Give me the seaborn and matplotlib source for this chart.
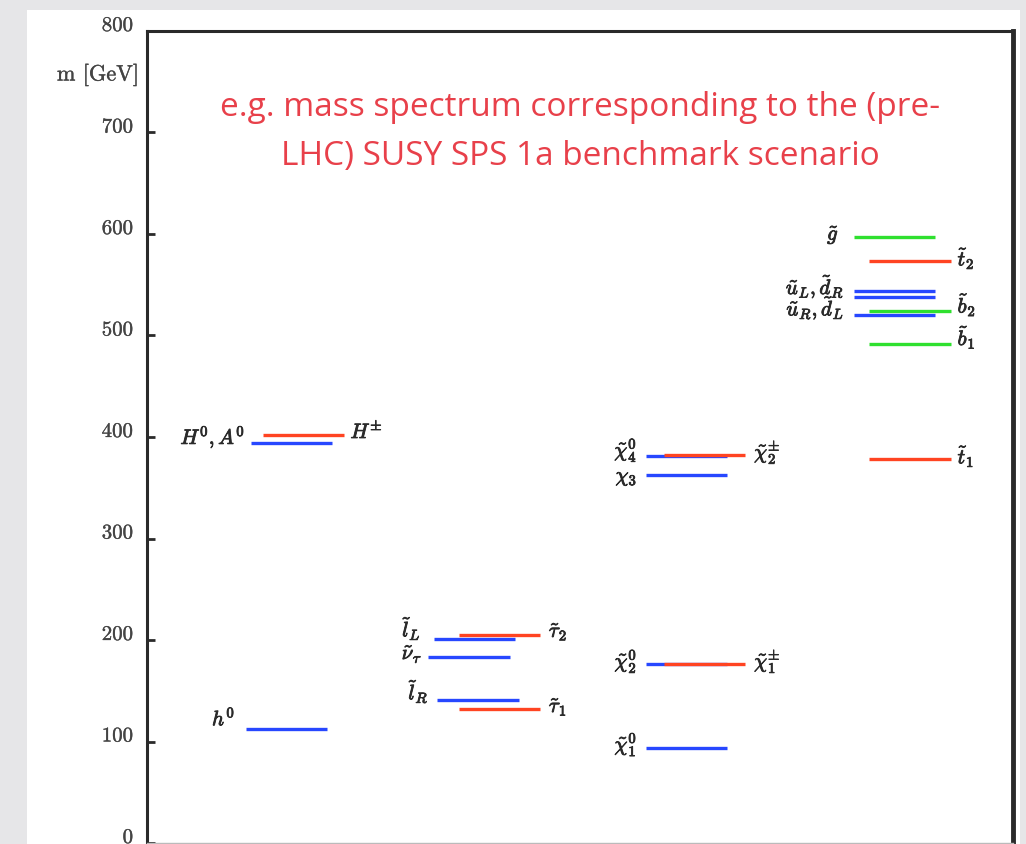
import matplotlib
matplotlib.use("Agg")
import matplotlib.pyplot as plt
import matplotlib.patheffects as pe
import matplotlib.transforms as mtransforms
from matplotlib.patches import Rectangle
import pandas as pd
import seaborn as sns

# SPS 1a mass levels (GeV)
particles = ["h0", "H0_A0", "Hpm", "lL", "tau2", "nutau", "lR", "tau1",
             "chi04", "chipm2", "chi03", "chi02", "chipm1", "chi01",
             "gluino", "stop2", "uL", "dR", "uR_dL", "sbot2", "sbot1", "stop1"]
masses = [112, 394, 402, 201, 205, 183, 141, 132,
          381, 382, 363, 176, 176, 94,
          597, 573, 544, 538, 520, 524, 492, 378]
families = ["blue", "blue", "red", "blue", "red", "blue", "blue", "red",
            "blue", "red", "blue", "blue", "red", "blue",
            "green", "red", "blue", "blue", "blue", "green", "green", "red"]
# left end of each level on a 0-100 horizontal scale
x_left = [11.4, 12.0, 13.4, 33.1, 36.0, 32.5, 33.5, 36.0,
          57.6, 59.7, 57.6, 57.6, 59.7, 57.6,
          81.6, 83.4, 81.6, 81.6, 81.6, 83.4, 83.4, 83.4]
level_width = 9.4

yticks = [0, 100, 200, 300, 400, 500, 600, 700, 800]

# text labels: (text, x, mass, side)
labels = [
    (r"$h^0$", 10.2, 124, "left"),
    (r"$H^0, A^0$", 11.3, 400, "left"),
    (r"$H^{\pm}$", 23.5, 406, "right"),
    (r"$\tilde{l}_L$", 31.6, 211, "left"),
    (r"$\tilde{\nu}_\tau$", 31.8, 186, "left"),
    (r"$\tilde{l}_R$", 32.5, 149, "left"),
    (r"$\tilde{\tau}_2$", 46.4, 208, "right"),
    (r"$\tilde{\tau}_1$", 46.4, 134, "right"),
    (r"$\tilde{\chi}^0_4$", 56.6, 387, "left"),
    (r"$\chi_3$", 56.6, 360, "left"),
    (r"$\tilde{\chi}^{\pm}_2$", 70.1, 385, "right"),
    (r"$\tilde{\chi}^0_2$", 56.6, 179, "left"),
    (r"$\tilde{\chi}^{\pm}_1$", 70.1, 179, "right"),
    (r"$\tilde{\chi}^0_1$", 56.6, 97, "left"),
    (r"$\tilde{g}$", 79.9, 599, "left"),
    (r"$\tilde{u}_L, \tilde{d}_R$", 80.5, 548, "left"),
    (r"$\tilde{u}_R, \tilde{d}_L$", 80.5, 527, "left"),
    (r"$\tilde{t}_2$", 93.6, 576, "right"),
    (r"$\tilde{b}_2$", 93.6, 530, "right"),
    (r"$\tilde{b}_1$", 93.6, 498, "right"),
    (r"$\tilde{t}_1$", 93.6, 381, "right"),
]

palette = {"blue": "#2747ff", "red": "#ff4422", "green": "#2fe02f"}
ink = "#2a2a2a"
bold = [pe.withStroke(linewidth=0.6, foreground=ink)]
grey_txt = "#444444"

sns.set_theme(style="white")
plt.rcParams["mathtext.fontset"] = "cm"

fig = plt.figure(figsize=(10.26, 8.44), dpi=100)
fig.patch.set_facecolor("#e6e6e8")
# white page behind the plot
fig.add_artist(Rectangle((27 / 1026, 0), (1020 - 27) / 1026, (844 - 10) / 844,
                         transform=fig.transFigure, facecolor="white",
                         edgecolor="none", zorder=0))

ax = fig.add_axes([147 / 1026, 1 / 844, (1013 - 147) / 1026, (843 - 31) / 844])
ax.set_facecolor("white")
ax.patch.set_alpha(0)

rows = []
for name, m, fam, xl in zip(particles, masses, families, x_left):
    rows.append({"level": name, "x": xl, "mass": m, "family": fam})
    rows.append({"level": name, "x": xl + level_width, "mass": m, "family": fam})
df = pd.DataFrame(rows)

for fam in ["blue", "red", "green"]:
    sub = df[df["family"] == fam]
    sns.lineplot(data=sub, x="x", y="mass", units="level", estimator=None,
                 color=palette[fam], linewidth=2.4, ax=ax, legend=False,
                 solid_capstyle="butt")

for text, x, m, side in labels:
    ax.text(x, m, text, ha="right" if side == "left" else "left", va="center",
            fontsize=15, color=ink, path_effects=bold)

ax.set_xlim(0, 100)
ax.set_ylim(0, 800)
ax.set_xticks([])
ax.set_yticks(yticks)
ax.set_yticklabels([])
ax.tick_params(axis="y", direction="in", length=6, width=2, colors=ink,
               left=True)
ax.set_xlabel("")
ax.set_ylabel("")

# tick values sit slightly above their ticks
lift = mtransforms.ScaledTranslation(0, 5 / 100, fig.dpi_scale_trans)
for v in yticks:
    ax.text(-0.016, v, str(v), transform=ax.get_yaxis_transform() + lift,
            ha="right", va="center", fontname="cmr10", fontsize=15,
            color=grey_txt, clip_on=False, path_effects=[
                pe.withStroke(linewidth=0.25, foreground=grey_txt)])

for side in ["left", "top", "right"]:
    ax.spines[side].set_color(ink)
    ax.spines[side].set_linewidth(2.2)
ax.spines["right"].set_linewidth(3.5)
ax.spines["bottom"].set_color("#bbbbbb")
ax.spines["bottom"].set_linewidth(1)

fig.text(139 / 1026, 1 - 75 / 844, "m [GeV]", ha="right", va="center",
         fontname="cmr10", fontsize=16, color=grey_txt,
         path_effects=[pe.withStroke(linewidth=0.25, foreground=grey_txt)])

title_kw = dict(ha="center", va="center", fontsize=24, color="#e8404a",
                family=["Open Sans", "DejaVu Sans"], transform=fig.transFigure)
fig.text(580 / 1026, 1 - 107 / 844,
         "e.g. mass spectrum corresponding to the (pre-", **title_kw)
fig.text(580 / 1026, 1 - 157 / 844,
         "LHC) SUSY SPS 1a benchmark scenario", **title_kw)

fig.savefig("out.png", dpi=100, facecolor=fig.get_facecolor())
